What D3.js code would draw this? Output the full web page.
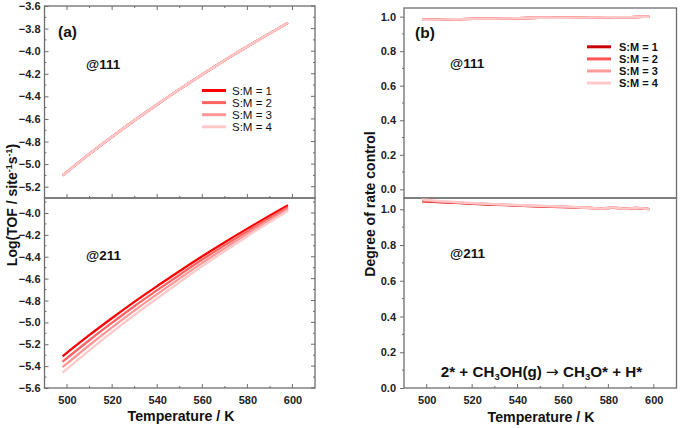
<!DOCTYPE html>
<html><head><meta charset="utf-8">
<script src="https://cdn.jsdelivr.net/npm/d3@7"></script>
<style>body{margin:0;background:#fff}svg{font-family:"Liberation Sans",Arial,sans-serif}</style>
</head><body><svg id="c" width="680" height="428"></svg>
<script>
const temps = [498, 510, 520, 530, 540, 550, 560, 570, 580, 590, 598];
const seriesNames = ["S:M = 1", "S:M = 2", "S:M = 3", "S:M = 4"];
// (a) log TOF @111 (all four ratios overlap)
const tof111 = [
  [-5.100, -4.909, -4.758, -4.612, -4.472, -4.336, -4.206, -4.080, -3.959, -3.841, -3.750],
  [-5.100, -4.909, -4.758, -4.612, -4.472, -4.336, -4.206, -4.080, -3.959, -3.841, -3.750],
  [-5.100, -4.909, -4.758, -4.612, -4.472, -4.336, -4.206, -4.080, -3.959, -3.841, -3.750],
  [-5.100, -4.909, -4.758, -4.612, -4.472, -4.336, -4.206, -4.080, -3.959, -3.841, -3.750]
];
// (a) log TOF @211
const tof211 = [
  [-5.31, -5.115, -4.960, -4.810, -4.668, -4.530, -4.396, -4.267, -4.143, -4.023, -3.930],
  [-5.36, -5.161, -5.003, -4.850, -4.705, -4.564, -4.426, -4.294, -4.166, -4.043, -3.947],
  [-5.41, -5.207, -5.046, -4.890, -4.742, -4.598, -4.456, -4.321, -4.189, -4.063, -3.964],
  [-5.46, -5.253, -5.089, -4.930, -4.779, -4.632, -4.486, -4.348, -4.212, -4.083, -3.981]
];
// (b) degree of rate control
const drcTemps = [498, 505, 515, 525, 535, 545, 555, 565, 572, 577, 582, 587, 592, 598];
const drc111 = [
  [0.981, 0.983, 0.986, 0.988, 0.990, 0.992, 0.993, 0.994, 0.995, 0.996, 0.997, 0.997, 0.998, 0.999],
  [0.981, 0.983, 0.986, 0.988, 0.990, 0.992, 0.993, 0.994, 0.995, 0.996, 0.997, 0.997, 0.998, 0.999],
  [0.981, 0.983, 0.986, 0.988, 0.990, 0.992, 0.993, 0.994, 0.995, 0.996, 0.997, 0.997, 0.998, 0.999],
  [0.981, 0.983, 0.986, 0.988, 0.990, 0.992, 0.993, 0.994, 0.995, 0.996, 0.997, 0.997, 0.998, 0.999]
];
const drc211 = [
  [1.044, 1.040, 1.034, 1.028, 1.023, 1.018, 1.014, 1.011, 1.008, 1.005, 1.008, 1.004, 1.006, 1.001],
  [1.047, 1.042, 1.036, 1.030, 1.024, 1.019, 1.015, 1.012, 1.007, 1.004, 1.009, 1.003, 1.007, 1.001],
  [1.050, 1.044, 1.037, 1.031, 1.025, 1.020, 1.016, 1.012, 1.006, 1.005, 1.010, 1.004, 1.008, 1.000],
  [1.055, 1.047, 1.039, 1.032, 1.026, 1.021, 1.017, 1.013, 1.007, 1.004, 1.010, 1.003, 1.008, 1.000]
];
const xTicks = [500, 520, 540, 560, 580, 600];
const yTicksTop111 = [-5.2, -5.0, -4.8, -4.6, -4.4, -4.2, -4.0, -3.8, -3.6];
const yTicksTop211 = [-5.6, -5.4, -5.2, -5.0, -4.8, -4.6, -4.4, -4.2, -4.0];
const yTicksDrc = [0.0, 0.2, 0.4, 0.6, 0.8, 1.0];

const colorsA = ["#ff0000", "#ff6363", "#ff9797", "#ffc9c9"];
const colorsB = ["#cc0000", "#ff5555", "#ff9a9a", "#ffc9c9"];

const svg = d3.select("#c");
const frame = "#6e6e6e";
const fmt = d3.format(".1f");

function panel(o) {
  const g = svg.append("g");
  const x = d3.scaleLinear().domain([490, 610]).range([o.x0, o.x1]);
  const y = d3.scaleLinear().domain(o.yDom).range([o.y1, o.y0]);
  const yin = o.yInward ? -1 : 1;
  const yAx = d3.axisLeft(y).tickValues(o.yTicks).tickFormat(fmt)
    .tickSizeInner(4 * yin).tickSizeOuter(0).tickPadding(o.yInward ? 4 : 4);
  const ga = g.append("g").attr("transform", `translate(${o.x0},0)`).call(yAx);
  const minor = [];
  for (let i = 0; i < o.yTicks.length; i++) {
    const v = o.yTicks[i] + (o.yTicks[1] - o.yTicks[0]) / 2;
    if (v <= o.yDom[1] + 1e-9) minor.push(v);
  }
  const vb = o.yTicks[0] - (o.yTicks[1] - o.yTicks[0]) / 2;
  if (vb >= o.yDom[0]) minor.push(vb);
  g.selectAll(null).data(minor).enter().append("line")
    .attr("x1", o.x0).attr("x2", o.x0 - 2 * yin).attr("y1", d => y(d)).attr("y2", d => y(d))
    .attr("stroke", frame);
  if (o.rightTicks) {
    g.selectAll(null).data(o.yTicks).enter().append("line")
      .attr("x1", o.x1).attr("x2", o.x1 - 4).attr("y1", d => y(d)).attr("y2", d => y(d)).attr("stroke", frame);
    g.selectAll(null).data(minor).enter().append("line")
      .attr("x1", o.x1).attr("x2", o.x1 - 2).attr("y1", d => y(d)).attr("y2", d => y(d)).attr("stroke", frame);
  }
  ga.selectAll("path").remove();
  ga.selectAll("line").attr("stroke", frame);
  ga.selectAll("text").attr("font-size", 11).attr("font-weight", "bold").attr("fill", "#222");
  const xMinor = d3.range(500, 601, 10).filter(v => v % 20 !== 0);
  if (o.bottomTicks) {
    g.selectAll(null).data(xTicks).enter().append("line")
      .attr("x1", d => x(d)).attr("x2", d => x(d)).attr("y1", o.y1).attr("y2", o.y1 - 4).attr("stroke", frame);
    g.selectAll(null).data(xMinor).enter().append("line")
      .attr("x1", d => x(d)).attr("x2", d => x(d)).attr("y1", o.y1).attr("y2", o.y1 - 2).attr("stroke", frame);
  }
  if (o.topTicks) {
    g.selectAll(null).data(xTicks).enter().append("line")
      .attr("x1", d => x(d)).attr("x2", d => x(d)).attr("y1", o.y0).attr("y2", o.y0 + 4).attr("stroke", frame);
    g.selectAll(null).data(xMinor).enter().append("line")
      .attr("x1", d => x(d)).attr("x2", d => x(d)).attr("y1", o.y0).attr("y2", o.y0 + 2).attr("stroke", frame);
  }
  if (o.xLabels) {
    const xa = d3.axisBottom(x).tickValues(xTicks).tickSize(0).tickPadding(8).tickFormat(d3.format("d"));
    const gx = g.append("g").attr("transform", `translate(0,${o.y1})`).call(xa);
    gx.selectAll("path").remove();
    gx.selectAll("text").attr("font-size", 11).attr("font-weight", "bold").attr("fill", "#222");
  }
  g.append("rect").attr("x", o.x0).attr("y", o.y0).attr("width", o.x1 - o.x0).attr("height", o.y1 - o.y0)
    .attr("fill", "none").attr("stroke", frame).attr("stroke-width", 1.3);
  const line = d3.line().x((d, i) => x(o.xs[i])).y(d => y(d)).curve(d3.curveMonotoneX);
  o.data.forEach((s, k) => {
    g.append("path").attr("d", line(s)).attr("fill", "none").attr("stroke", o.colors[k])
      .attr("stroke-width", 2.3).attr("stroke-linejoin", "round");
  });
  return {x, y, g};
}

panel({x0: 44.5, x1: 315, y0: 6, y1: 198, yDom: [-5.3, -3.6], yTicks: yTicksTop111,
  yInward: true, rightTicks: true, topTicks: true, bottomTicks: true, xs: temps, data: tof111, colors: colorsA});
panel({x0: 44.5, x1: 315, y0: 198, y1: 388, yDom: [-5.6, -3.863], yTicks: yTicksTop211,
  yInward: true, rightTicks: true, bottomTicks: true, xLabels: true, xs: temps, data: tof211, colors: colorsA});
panel({x0: 404, x1: 676.5, y0: 8, y1: 198, yDom: [-0.05, 1.05], yTicks: yTicksDrc,
  yInward: false, xs: drcTemps, data: drc111, colors: colorsB});
panel({x0: 404, x1: 676.5, y0: 198, y1: 388, yDom: [0.0, 1.063], yTicks: yTicksDrc,
  yInward: false, bottomTicks: true, xLabels: true, xs: drcTemps, data: drc211, colors: colorsB});

function legend(x0, y0, colors, bold, size, gap) {
  seriesNames.forEach((n, i) => {
    const yy = y0 + i * 12.1;
    svg.append("line").attr("x1", x0).attr("x2", x0 + 24).attr("y1", yy).attr("y2", yy)
      .attr("stroke", colors[i]).attr("stroke-width", 3);
    svg.append("text").attr("x", x0 + gap).attr("y", yy + 4).text(n).attr("font-size", size)
      .attr("font-weight", bold ? "bold" : "normal").attr("fill", "#111");
  });
}
legend(202, 90.5, colorsA, false, 11.5, 30);
legend(587, 46.8, colorsB, true, 11, 32);

function txt(x, y, s, size, weight, anchor) {
  return svg.append("text").attr("x", x).attr("y", y).text(s).attr("font-size", size)
    .attr("font-weight", weight || "bold").attr("text-anchor", anchor || "start").attr("fill", "#111");
}
txt(58, 37, "(a)", 15.5);
txt(415, 38, "(b)", 15.5);
txt(86, 69, "@111", 13.5, "bold");
txt(86, 260, "@211", 13.5, "bold");
txt(450, 68, "@111", 13.5, "bold");
txt(450, 258, "@211", 13.5, "bold");
txt(181, 421, "Temperature / K", 14.2, "bold", "middle");
txt(541, 422, "Temperature / K", 14.2, "bold", "middle");

const yl = svg.append("text").attr("transform", "translate(17,205) rotate(-90)").attr("text-anchor", "middle")
  .attr("font-size", 14).attr("font-weight", "bold").attr("fill", "#111");
yl.append("tspan").text("Log(TOF / site");
yl.append("tspan").text("-1").attr("font-size", 9).attr("dy", -5);
yl.append("tspan").text("s").attr("dy", 5);
yl.append("tspan").text("-1").attr("font-size", 9).attr("dy", -5);
yl.append("tspan").text(")").attr("dy", 5);
svg.append("text").attr("transform", "translate(375,204) rotate(-90)").attr("text-anchor", "middle")
  .attr("font-size", 14).attr("font-weight", "bold").attr("fill", "#111").text("Degree of rate control");

const r = svg.append("text").attr("x", 541.5).attr("y", 377).attr("text-anchor", "middle")
  .attr("font-size", 15.2).attr("font-weight", "bold").attr("fill", "#111");
r.append("tspan").text("2* + CH");
r.append("tspan").text("3").attr("font-size", 9.5).attr("dy", 3);
r.append("tspan").text("OH(g) ").attr("dy", -3);
r.append("tspan").text("\u2192").attr("font-weight", "normal").attr("font-family", "DejaVu Sans");
r.append("tspan").text(" CH");
r.append("tspan").text("3").attr("font-size", 9.5).attr("dy", 3);
r.append("tspan").text("O* + H*").attr("dy", -3);
</script></body></html>
